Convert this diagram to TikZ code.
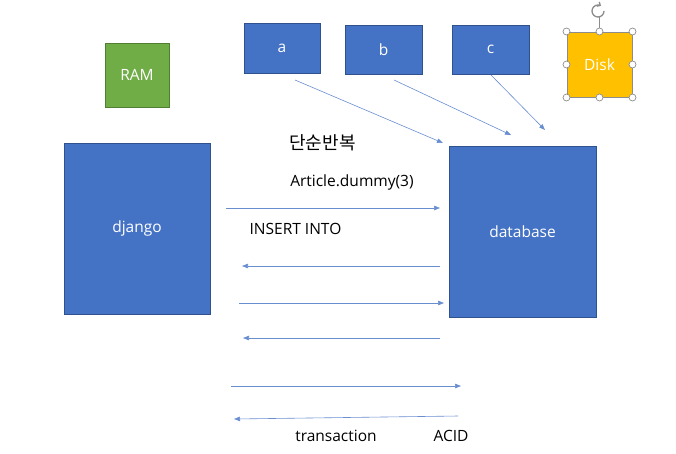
\documentclass[tikz,border=0pt]{standalone}
\usepackage{fontspec}
\setmainfont{Open Sans}
\newfontfamily\krfont{Noto Sans CJK KR}
\usetikzlibrary{arrows.meta}

\definecolor{boxblue}{HTML}{4472C4}
\definecolor{boxline}{HTML}{2F528F}
\definecolor{ramgreen}{HTML}{70AD47}
\definecolor{ramline}{HTML}{507E32}
\definecolor{diskgold}{HTML}{FFC000}
\definecolor{handlegray}{HTML}{8C8C8C}

\tikzset{
    box/.style={draw=boxline, fill=boxblue, text=white, line width=1pt, inner sep=0pt, font=\fontsize{15.5}{18}\selectfont},
    label/.style={inner sep=0pt, font=\fontsize{15.5}{18}\selectfont},
    flow/.style={draw=boxblue!80, line width=0.6pt, -{Triangle[length=6pt,width=4.5pt]}},
    handle/.style={draw=handlegray, fill=white, line width=0.7pt}
}

\begin{document}
\begin{tikzpicture}[x=1pt, y=-1pt]
            \useasboundingbox (0,0) rectangle (676,453);

            % Draw the boxes
            \node[box, draw=ramline, fill=ramgreen, minimum width=64pt, minimum height=64pt] (ram) at (137,75) {RAM};
            \node[box, minimum width=146pt, minimum height=171pt] (django) at (137,228.5) {django};
            \node[box, minimum width=76pt, minimum height=50pt] (a) at (282,48) {a};
            \node[box, minimum width=77pt, minimum height=49pt] (b) at (383.5,49.5) {b};
            \node[box, minimum width=77pt, minimum height=49pt] (c) at (490.5,49.5) {c};
            \node[box, draw=handlegray, fill=diskgold, minimum width=65pt, minimum height=65pt] (disk) at (599.5,64.5) {Disk};
            \node[box, minimum width=147pt, minimum height=171pt] (database) at (522.5,231.5) {database};

            % Draw the selection handles of the disk
            \coordinate (rot) at (598,11);
            \draw[handlegray, line width=0.7pt] (disk.north) -- ++(0,-15);
            \draw[handlegray, line width=1.3pt, -{Straight Barb[length=2.5pt]}] (rot) ++(6,0) arc (0:300:6);
            \foreach \pos in {north west, north, north east, west, east, south west, south, south east}
                \draw[handle] (disk.\pos) circle (3.5);

            % Draw the texts
            \node[label, font=\krfont\fontsize{18}{20}\selectfont] (repeat) at (322.5,143) {단순반복};
            \node[label] (dummy) at (352,182) {Article.dummy(3)};
            \node[label] (insert) at (295.5,229) {INSERT INTO};
            \node[label] (trans) at (336,436) {transaction};
            \node[label] (acid) at (451,436) {ACID};

            % Draw the arrow ends
            \coordinate (aS) at (295,80);  \coordinate (aT) at (443,143);
            \coordinate (bS) at (394,80);  \coordinate (bT) at (511,135);
            \coordinate (cS) at (491,75);  \coordinate (cT) at (545,130);
            \coordinate (r1S) at (226,208); \coordinate (r1T) at (440,208);
            \coordinate (l1S) at (440,266); \coordinate (l1T) at (242,266);
            \coordinate (r2S) at (239,303); \coordinate (r2T) at (444,303);
            \coordinate (l2S) at (440,338); \coordinate (l2T) at (243,338);
            \coordinate (r3S) at (231,386); \coordinate (r3T) at (461,386);
            \coordinate (l3S) at (458,416); \coordinate (l3T) at (234,419);

            % Draw the arrows
            \foreach \s/\t in {aS/aT, bS/bT, cS/cT, r1S/r1T, l1S/l1T, r2S/r2T, l2S/l2T, r3S/r3T, l3S/l3T}
                \draw[flow] (\s) -- (\t);

        \end{tikzpicture}
\end{document}
